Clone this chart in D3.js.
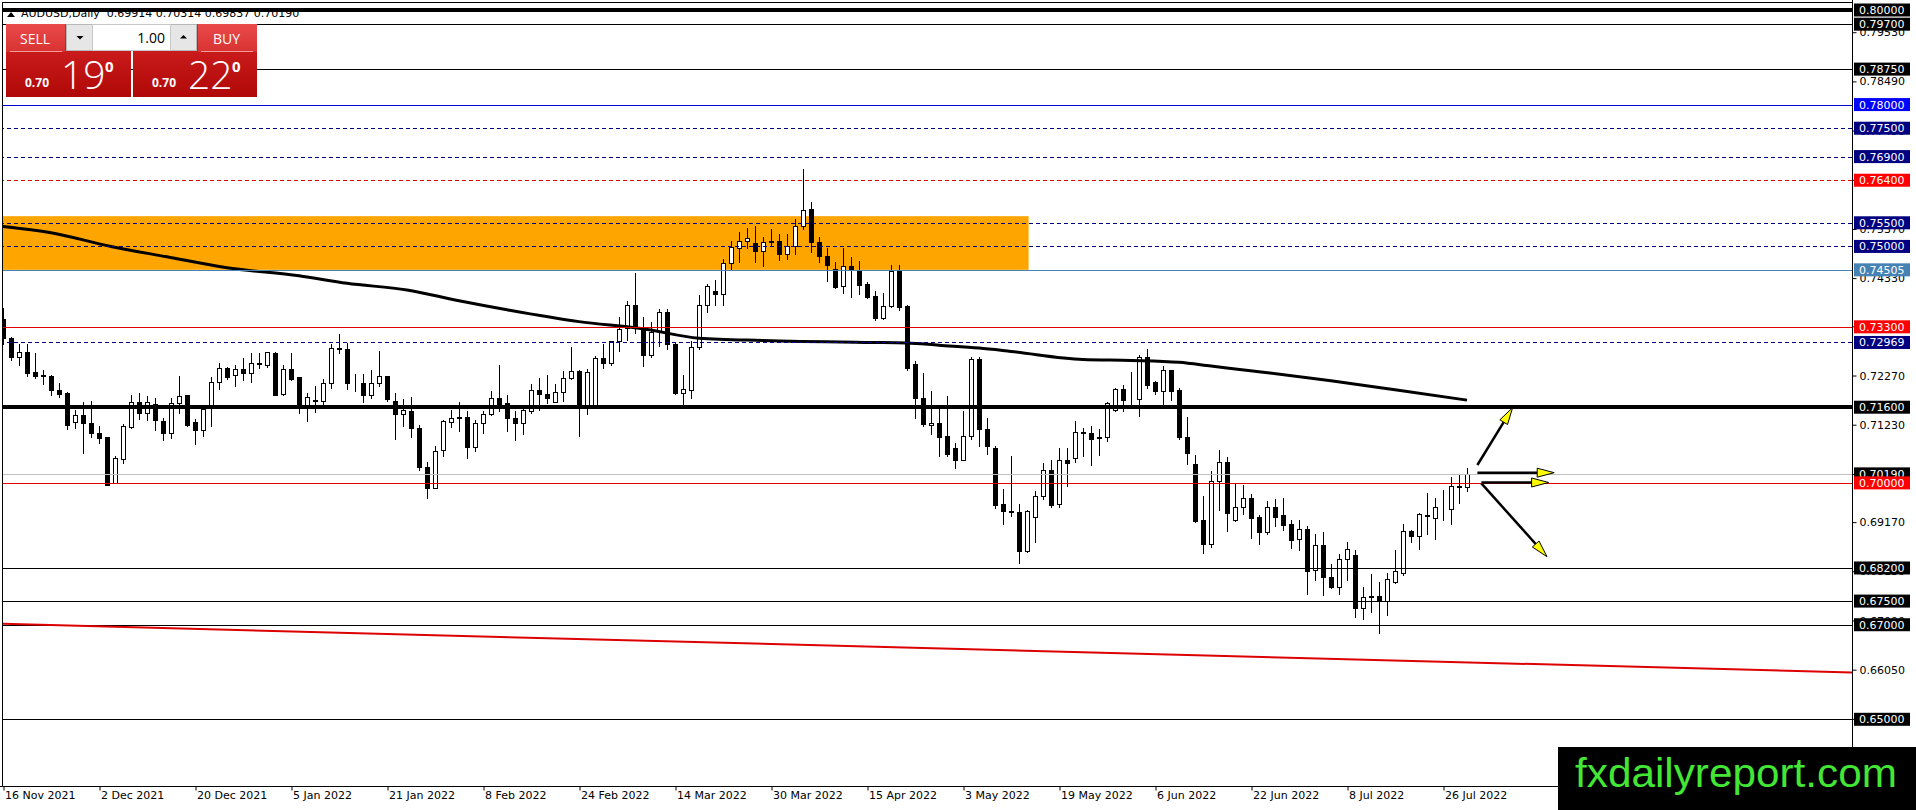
<!DOCTYPE html>
<html><head><meta charset="utf-8">
<script src="https://cdnjs.cloudflare.com/ajax/libs/d3/7.8.5/d3.min.js"></script>
<style>
html,body{margin:0;padding:0;background:#fff;overflow:hidden;}
svg{display:block;}
text{font-family:"DejaVu Sans",sans-serif;}
</style></head>
<body>
<svg id="c" width="1916" height="810"></svg>
<script>
// ---------------- DATA ----------------
const symbolTitle = "AUDUSD,Daily  0.69914 0.70314 0.69837 0.70190";
const opens = [0.7347,0.7306,0.7266,0.7276,0.7234,0.7228,0.7227,0.7196,0.7190,0.7128,0.7143,0.7126,0.7106,0.7096,0.7000,0.7051,0.7119,0.7170,0.7147,0.7166,0.7131,0.7106,0.7168,0.7185,0.7128,0.7112,0.7158,0.7213,0.7243,0.7228,0.7241,0.7232,0.7253,0.7249,0.7275,0.7187,0.7241,0.7223,0.7158,0.7175,0.7174,0.7211,0.7285,0.7283,0.7210,0.7211,0.7185,0.7211,0.7226,0.7174,0.7146,0.7152,0.7117,0.7034,0.6990,0.7070,0.7128,0.7139,0.7139,0.7076,0.7126,0.7146,0.7180,0.7168,0.7137,0.7127,0.7152,0.7197,0.7188,0.7172,0.7192,0.7221,0.7237,0.7165,0.7164,0.7265,0.7254,0.7299,0.7328,0.7376,0.7326,0.7270,0.7321,0.7361,0.7294,0.7190,0.7197,0.7288,0.7377,0.7406,0.7399,0.7466,0.7497,0.7511,0.7508,0.7490,0.7510,0.7511,0.7484,0.7501,0.7544,0.7580,0.7509,0.7480,0.7453,0.7416,0.7458,0.7451,0.7420,0.7395,0.7349,0.7373,0.7449,0.7375,0.7252,0.7180,0.7123,0.7127,0.7099,0.7073,0.7049,0.7099,0.7261,0.7113,0.7073,0.6956,0.6939,0.6939,0.6855,0.6927,0.6972,0.7027,0.6955,0.7049,0.7053,0.7106,0.7106,0.7098,0.7096,0.7154,0.7199,0.7176,0.7178,0.7266,0.7214,0.7194,0.7238,0.7197,0.7098,0.7039,0.6922,0.6871,0.7003,0.7045,0.6922,0.6948,0.6969,0.6927,0.6896,0.6949,0.6931,0.6912,0.6882,0.6903,0.6815,0.6868,0.6801,0.6780,0.6840,0.6847,0.6736,0.6759,0.6761,0.6750,0.6790,0.6809,0.6899,0.6887,0.6933,0.6926,0.6949,0.6945,0.6992,0.69914];
const highs = [0.7370,0.7308,0.7294,0.7293,0.7274,0.7239,0.7228,0.7211,0.7192,0.7155,0.7171,0.7174,0.7121,0.7098,0.7057,0.7125,0.7186,0.7189,0.7183,0.7179,0.7138,0.7180,0.7225,0.7186,0.7136,0.7157,0.7223,0.7254,0.7245,0.7249,0.7264,0.7275,0.7275,0.7277,0.7277,0.7249,0.7274,0.7223,0.7189,0.7204,0.7219,0.7294,0.7315,0.7296,0.7230,0.7230,0.7238,0.7279,0.7227,0.7189,0.7177,0.7181,0.7122,0.7045,0.7077,0.7132,0.7155,0.7170,0.7151,0.7132,0.7153,0.7194,0.7249,0.7185,0.7152,0.7165,0.7210,0.7221,0.7229,0.7210,0.7237,0.7287,0.7238,0.7241,0.7268,0.7294,0.7300,0.7350,0.7385,0.7444,0.7350,0.7341,0.7368,0.7367,0.7295,0.7229,0.7299,0.7397,0.7421,0.7428,0.7474,0.7512,0.7530,0.7539,0.7543,0.7521,0.7537,0.7527,0.7527,0.7558,0.7663,0.7595,0.7521,0.7497,0.7468,0.7496,0.7477,0.7470,0.7425,0.7406,0.7402,0.7460,0.7460,0.7377,0.7258,0.7232,0.7194,0.7157,0.7183,0.7085,0.7151,0.7266,0.7266,0.7138,0.7078,0.6988,0.7056,0.6955,0.6943,0.6982,0.7042,0.7049,0.7074,0.7074,0.7130,0.7116,0.7121,0.7114,0.7171,0.7201,0.7206,0.7234,0.7271,0.7283,0.7216,0.7248,0.7239,0.7201,0.7140,0.7058,0.6973,0.7026,0.7070,0.7054,0.6999,0.6996,0.6976,0.6931,0.6961,0.6966,0.6968,0.6922,0.6922,0.6908,0.6891,0.6896,0.6829,0.6850,0.6875,0.6857,0.6780,0.6808,0.6790,0.6809,0.6857,0.6913,0.6900,0.6936,0.6979,0.6968,0.6985,0.7012,0.7016,0.70314];
const lows = [0.7293,0.7260,0.7250,0.7226,0.7221,0.7209,0.7185,0.7181,0.7113,0.7116,0.7064,0.7097,0.7085,0.6995,0.6999,0.7042,0.7116,0.7136,0.7132,0.7111,0.7091,0.7094,0.7147,0.7121,0.7083,0.7100,0.7121,0.7198,0.7219,0.7205,0.7217,0.7214,0.7243,0.7244,0.7185,0.7185,0.7217,0.7147,0.7130,0.7149,0.7162,0.7201,0.7274,0.7198,0.7195,0.7170,0.7180,0.7205,0.7174,0.7093,0.7121,0.7097,0.7027,0.6968,0.6989,0.7057,0.7119,0.7110,0.7053,0.7068,0.7106,0.7143,0.7151,0.7110,0.7090,0.7103,0.7148,0.7154,0.7168,0.7170,0.7174,0.7219,0.7099,0.7145,0.7163,0.7243,0.7250,0.7278,0.7303,0.7317,0.7248,0.7266,0.7290,0.7284,0.7188,0.7167,0.7180,0.7284,0.7361,0.7376,0.7376,0.7453,0.7468,0.7497,0.7468,0.7458,0.7500,0.7472,0.7474,0.7483,0.7537,0.7488,0.7467,0.7427,0.7413,0.7402,0.7393,0.7399,0.7391,0.7344,0.7346,0.7372,0.7365,0.7238,0.7137,0.7120,0.7103,0.7057,0.7057,0.7032,0.7048,0.7092,0.7078,0.7062,0.6947,0.6914,0.6929,0.6830,0.6853,0.6874,0.6965,0.6950,0.6950,0.6993,0.7044,0.7056,0.7037,0.7058,0.7089,0.7152,0.7151,0.7161,0.7142,0.7201,0.7187,0.7161,0.7176,0.7093,0.7039,0.6917,0.6851,0.6865,0.6943,0.6898,0.6919,0.6934,0.6884,0.6871,0.6892,0.6909,0.6901,0.6862,0.6857,0.6766,0.6795,0.6763,0.6778,0.6766,0.6794,0.6716,0.6713,0.6727,0.6683,0.6721,0.6788,0.6806,0.6875,0.6861,0.6892,0.6882,0.6922,0.6912,0.6957,0.69837];
const closes = [0.7306,0.7266,0.7276,0.7232,0.7225,0.7227,0.7196,0.7187,0.7122,0.7143,0.7127,0.7106,0.7094,0.6996,0.7053,0.7121,0.7170,0.7147,0.7170,0.7132,0.7106,0.7168,0.7183,0.7123,0.7112,0.7157,0.7213,0.7243,0.7223,0.7241,0.7232,0.7253,0.7252,0.7276,0.7186,0.7241,0.7220,0.7158,0.7181,0.7174,0.7211,0.7285,0.7284,0.7211,0.7209,0.7185,0.7211,0.7226,0.7177,0.7145,0.7155,0.7115,0.7033,0.6990,0.7068,0.7130,0.7138,0.7138,0.7076,0.7126,0.7146,0.7180,0.7166,0.7137,0.7127,0.7154,0.7197,0.7188,0.7179,0.7192,0.7221,0.7237,0.7164,0.7234,0.7265,0.7254,0.7299,0.7326,0.7376,0.7330,0.7270,0.7319,0.7361,0.7293,0.7190,0.7198,0.7288,0.7377,0.7417,0.7399,0.7466,0.7499,0.7511,0.7518,0.7491,0.7510,0.7511,0.7484,0.7501,0.7544,0.7577,0.7509,0.7479,0.7460,0.7415,0.7458,0.7451,0.7418,0.7394,0.7349,0.7373,0.7449,0.7372,0.7243,0.7180,0.7124,0.7127,0.7097,0.7061,0.7049,0.7099,0.7261,0.7113,0.7078,0.6954,0.6940,0.6940,0.6855,0.6941,0.6972,0.7027,0.6954,0.7049,0.7041,0.7107,0.7107,0.7092,0.7095,0.7168,0.7199,0.7175,0.7175,0.7266,0.7206,0.7194,0.7238,0.7195,0.7096,0.7064,0.6920,0.6871,0.7005,0.7045,0.6936,0.6948,0.6968,0.6926,0.6896,0.6950,0.6928,0.6910,0.6880,0.6903,0.6813,0.6868,0.6801,0.6780,0.6840,0.6861,0.6736,0.6758,0.6760,0.6750,0.6797,0.6813,0.6899,0.6887,0.6935,0.6929,0.6950,0.6950,0.6993,0.6993,0.70190];

// 200-day moving average, read at sample bars
const maBar = [-0.4,6,13.5,20.5,28,37,43,50.5,57,63,72,80,87,95,108,113,117,122,126,135,141,147,151,157,166,174,183];
const maVal = [0.7543,0.7529,0.7500,0.7478,0.7455,0.7438,0.7422,0.7408,0.7385,0.7366,0.7341,0.7326,0.7306,0.7301,0.7297,0.7296,0.7291,0.7285,0.7278,0.7261,0.7259,0.7255,0.7247,0.7235,0.7216,0.7197,0.7175];

// red trend line (bar, price)
const trendBar = [-0.375, 231.125];
const trendVal = [0.6702, 0.6599];

// orange supply zone
const zoneBar = [-0.375, 128.2];
const zoneVal = [0.7564, 0.74505];

// horizontal levels
const levelVals  = [0.80000,0.79700,0.78750,0.78000,0.77500,0.76900,0.76400,0.75500,0.75000,0.74505,0.73300,0.72969,0.71600,0.70190,0.70000,0.68200,0.67500,0.67000,0.65000];
const levelKinds = ["thick","solid","solid","blue","dash","dash","reddash","dash","dash","steel","red","dash","thick","bid","red","solid","solid","solid","solid"];

// price axis tick labels
const priceTicks = [0.79530,0.78490,0.77450,0.76410,0.75370,0.74330,0.73310,0.72270,0.71230,0.70190,0.69170,0.68130,0.67090,0.66050,0.65010];

// date axis
const dateTickBar = [0,12,24,36,48,60,72,84,96,108,120,132,144,156,168,180];
const dateTickLabels = ["16 Nov 2021","2 Dec 2021","20 Dec 2021","5 Jan 2022","21 Jan 2022","8 Feb 2022","24 Feb 2022","14 Mar 2022","30 Mar 2022","15 Apr 2022","3 May 2022","19 May 2022","6 Jun 2022","22 Jun 2022","8 Jul 2022","26 Jul 2022"];

// scenario arrows [bar0, price0] -> [bar1, price1]
const arrowBar0 = [184.3,184.3,184.8,184.8];
const arrowVal0 = [0.70378,0.70215,0.70008,0.69990];
const arrowBar1 = [188.7,193.9,193.2,193.0];
const arrowVal1 = [0.7159,0.70215,0.70008,0.68439];

// one-click trading panel
const bidBig = "19", askBig = "22", pricePrefix = "0.70", lotSize = "1.00";

// ---------------- STYLE ----------------
const kindStyle = {
  thick:  {stroke:"#000", w:3.5, dash:null, box:"#000"},
  solid:  {stroke:"#000", w:1, dash:null, box:"#000"},
  blue:   {stroke:"#0000cc", w:1, dash:null, box:"#0000ff"},
  dash:   {stroke:"#000080", w:1, dash:"4,3", box:"#000080"},
  reddash:{stroke:"#e00000", w:1, dash:"4,3", box:"#ff0000"},
  steel:  {stroke:"#4682b4", w:1, dash:null, box:"#4682b4"},
  red:    {stroke:"#e00000", w:1, dash:null, box:"#ff0000"},
  bid:    {stroke:"#c0c0c0", w:1, dash:null, box:"#000"}
};

// ---------------- DRAW ----------------
const W = 1916, H = 810, AX = 1852, BOT = 786;
const svg = d3.select("#c");
const x = d3.scaleLinear().domain([-0.375, 231.125]).range([0, AX]);
const y = d3.scaleLinear().domain([0.8, 0.65]).range([10, 719.3]);

const defs = svg.append("defs");
defs.append("clipPath").attr("id","plot").append("rect").attr("x",3).attr("y",3).attr("width",AX-3).attr("height",BOT-3);
const g1 = defs.append("linearGradient").attr("id","redTop").attr("x1",0).attr("y1",0).attr("x2",0).attr("y2",1);
g1.append("stop").attr("offset","0%").attr("stop-color","#ea4b4b");
g1.append("stop").attr("offset","100%").attr("stop-color","#d83232");
const g2 = defs.append("linearGradient").attr("id","redLow").attr("x1",0).attr("y1",0).attr("x2",0).attr("y2",1);
g2.append("stop").attr("offset","0%").attr("stop-color","#d82626");
g2.append("stop").attr("offset","100%").attr("stop-color","#b00808");

svg.append("rect").attr("width",W).attr("height",H).attr("fill","#fff");

const plot = svg.append("g").attr("clip-path","url(#plot)");

// zone
plot.append("rect")
  .attr("x", x(zoneBar[0])).attr("width", x(zoneBar[1]) - x(zoneBar[0]))
  .attr("y", y(zoneVal[0])).attr("height", y(zoneVal[1]) - y(zoneVal[0]))
  .attr("fill","#ffa500");

// candles
const idx = d3.range(opens.length);
const cg = plot.append("g").attr("shape-rendering","crispEdges");
cg.selectAll("line.wick").data(idx).join("line")
  .attr("x1", i => Math.round(x(i)) + 0.5).attr("x2", i => Math.round(x(i)) + 0.5)
  .attr("y1", i => Math.round(y(highs[i]))).attr("y2", i => Math.round(y(lows[i])) + 1)
  .attr("stroke","#000").attr("stroke-width",1);
cg.selectAll("rect.body").data(idx).join("rect")
  .attr("x", i => Math.round(x(i)) - 2 + 0.5)
  .attr("width", 4)
  .attr("y", i => Math.round(y(Math.max(opens[i], closes[i]))) + 0.5)
  .attr("height", i => Math.max(0, Math.round(y(Math.min(opens[i], closes[i]))) - Math.round(y(Math.max(opens[i], closes[i])))))
  .attr("fill", i => closes[i] >= opens[i] ? "#fff" : "#000")
  .attr("stroke","#000").attr("stroke-width",1);

// moving average
plot.append("path")
  .datum(d3.zip(maBar, maVal))
  .attr("d", d3.line().x(d => x(d[0])).y(d => y(d[1])).curve(d3.curveMonotoneX))
  .attr("fill","none").attr("stroke","#000").attr("stroke-width",3);

// levels
const lg = plot.append("g");
levelVals.forEach((v,i) => {
  const s = kindStyle[levelKinds[i]];
  const yy = s.w % 2 === 1 ? Math.round(y(v)) + 0.5 : y(v);
  lg.append("line").attr("x1",0).attr("x2",AX).attr("y1",yy).attr("y2",yy)
    .attr("stroke",s.stroke).attr("stroke-width",s.w)
    .attr("stroke-dasharray",s.dash).attr("shape-rendering","crispEdges");
});

// trend line
plot.append("path")
  .datum(d3.zip(trendBar, trendVal))
  .attr("d", d3.line().x(d => x(d[0])).y(d => y(d[1])))
  .attr("fill","none").attr("stroke","#dd0000").attr("stroke-width",2);

// arrows
const ag = plot.append("g");
arrowBar0.forEach((b,i) => {
  const x0 = x(b), y0 = y(arrowVal0[i]), x1 = x(arrowBar1[i]), y1 = y(arrowVal1[i]);
  const L = Math.hypot(x1-x0, y1-y0), ux = (x1-x0)/L, uy = (y1-y0)/L;
  const hl = 17, hw = 4.5;
  const bx = x1 - ux*hl, by = y1 - uy*hl;
  ag.append("line").attr("x1",x0).attr("y1",y0).attr("x2",bx).attr("y2",by)
    .attr("stroke","#000").attr("stroke-width",2.5);
  ag.append("polygon")
    .attr("points", [[x1,y1],[bx - uy*hw, by + ux*hw],[bx + uy*hw, by - ux*hw]].map(p => p.join(",")).join(" "))
    .attr("fill","#ffff00").attr("stroke","#000").attr("stroke-width",1);
});

// frame
svg.append("rect").attr("x",2.5).attr("y",2.5).attr("width",AX-2).attr("height",BOT-2)
  .attr("fill","none").attr("stroke","#000").attr("stroke-width",1).attr("shape-rendering","crispEdges");

// header text (partly covered by the 0.8 line)
svg.append("polygon").attr("points","7,17 11,12 15,17").attr("fill","#000");
svg.append("text").attr("x",21).attr("y",17).attr("font-size",11).attr("fill","#000")
  .style("white-space","pre").text(symbolTitle);
svg.append("line").attr("x1",3).attr("x2",AX).attr("y1",y(levelVals[0])).attr("y2",y(levelVals[0]))
  .attr("stroke","#000").attr("stroke-width",3.5);

// trading panel
const p = svg.append("g");
p.append("rect").attr("x",6).attr("y",24).attr("width",125).attr("height",73).attr("fill","url(#redLow)");
p.append("rect").attr("x",133).attr("y",24).attr("width",124).attr("height",73).attr("fill","url(#redLow)");
p.append("rect").attr("x",6).attr("y",24).attr("width",59).attr("height",28).attr("fill","url(#redTop)");
p.append("rect").attr("x",198).attr("y",24).attr("width",59).attr("height",28).attr("fill","url(#redTop)");
p.append("line").attr("x1",10).attr("x2",62).attr("y1",51.5).attr("y2",51.5).attr("stroke","#f39a9a").attr("stroke-width",1);
p.append("line").attr("x1",201).attr("x2",253).attr("y1",51.5).attr("y2",51.5).attr("stroke","#f39a9a").attr("stroke-width",1);
p.append("rect").attr("x",66.5).attr("y",24.5).attr("width",130).attr("height",26).attr("fill","#e6e6e6").attr("stroke","#b8b8b8");
p.append("rect").attr("x",92.5).attr("y",24.5).attr("width",78).attr("height",26).attr("fill","#fff").attr("stroke","#c8c8c8");
p.append("polygon").attr("points","76.5,36 83.5,36 80,39.5").attr("fill","#000");
p.append("polygon").attr("points","180,38.5 187,38.5 183.5,35").attr("fill","#000");
p.append("text").attr("x",165).attr("y",43).attr("text-anchor","end").attr("font-size",14)
  .style("font-family","'Open Sans',sans-serif").attr("fill","#000").text(lotSize);
p.append("text").attr("x",20).attr("y",44).attr("font-size",14).style("font-family","'Open Sans',sans-serif").attr("fill","#fff").text("SELL");
p.append("text").attr("x",213).attr("y",44).attr("font-size",14).style("font-family","'Open Sans',sans-serif").attr("fill","#fff").text("BUY");
[[25,61,105,bidBig],[152,188,232,askBig]].forEach(a => {
  p.append("text").attr("x",a[0]).attr("y",87).attr("font-size",12).attr("font-weight","bold")
    .style("font-family","'Open Sans',sans-serif").attr("fill","#fff").text(pricePrefix);
  p.append("text").attr("x",a[1]).attr("y",88.5).attr("font-size",39)
    .style("font-family","'Open Sans',sans-serif").attr("font-weight",300).attr("fill","#fff").text(a[3]);
  p.append("text").attr("x",a[2]).attr("y",72).attr("font-size",15).attr("font-weight","bold")
    .style("font-family","'Open Sans',sans-serif").attr("fill","#fff").text("0");
});

// price axis
svg.append("line").attr("x1",AX+0.5).attr("x2",AX+0.5).attr("y1",0).attr("y2",BOT).attr("stroke","#000").attr("shape-rendering","crispEdges");
const ya = svg.append("g").attr("transform",`translate(${AX+0.5},0)`)
  .call(d3.axisRight(y).tickValues(priceTicks).tickFormat(d3.format(".5f")).tickSize(4).tickPadding(3));
ya.select(".domain").remove();
ya.selectAll("text").attr("font-size",11).style("font-family","'DejaVu Sans',sans-serif").attr("fill","#000");
ya.selectAll("line").attr("stroke","#000");

// level labels
const lb = svg.append("g");
levelVals.forEach((v,i) => {
  const s = kindStyle[levelKinds[i]];
  const yy = y(v);
  lb.append("rect").attr("x",AX+2).attr("y",yy-6.5).attr("width",56).attr("height",13).attr("fill",s.box);
  lb.append("text").attr("x",AX+7).attr("y",yy).attr("dy","0.36em").attr("font-size",11).attr("fill","#fff").text(d3.format(".5f")(v));
});

// date axis
svg.append("line").attr("x1",0).attr("x2",AX).attr("y1",BOT+0.5).attr("y2",BOT+0.5).attr("stroke","#000").attr("shape-rendering","crispEdges");
const xa = svg.append("g").attr("transform",`translate(0.5,${BOT+0.5})`)
  .call(d3.axisBottom(x).tickValues(dateTickBar).tickFormat((d,i) => dateTickLabels[i]).tickSize(4).tickPadding(3));
xa.select(".domain").remove();
xa.selectAll("text").attr("font-size",11).attr("text-anchor","start").attr("dx","1").attr("dy","0.5em")
  .style("font-family","'DejaVu Sans',sans-serif").attr("fill","#000");
xa.selectAll("line").attr("stroke","#000");

// watermark
svg.append("rect").attr("x",1558).attr("y",747).attr("width",W-1558).attr("height",H-747).attr("fill","#000");
svg.append("text").attr("x",1575).attr("y",787).attr("font-size",41)
  .style("font-family","'Liberation Sans',Arial,sans-serif").attr("fill","#44e636")
  .attr("textLength",322).attr("lengthAdjust","spacingAndGlyphs").text("fxdailyreport.com");
</script>
</body></html>
